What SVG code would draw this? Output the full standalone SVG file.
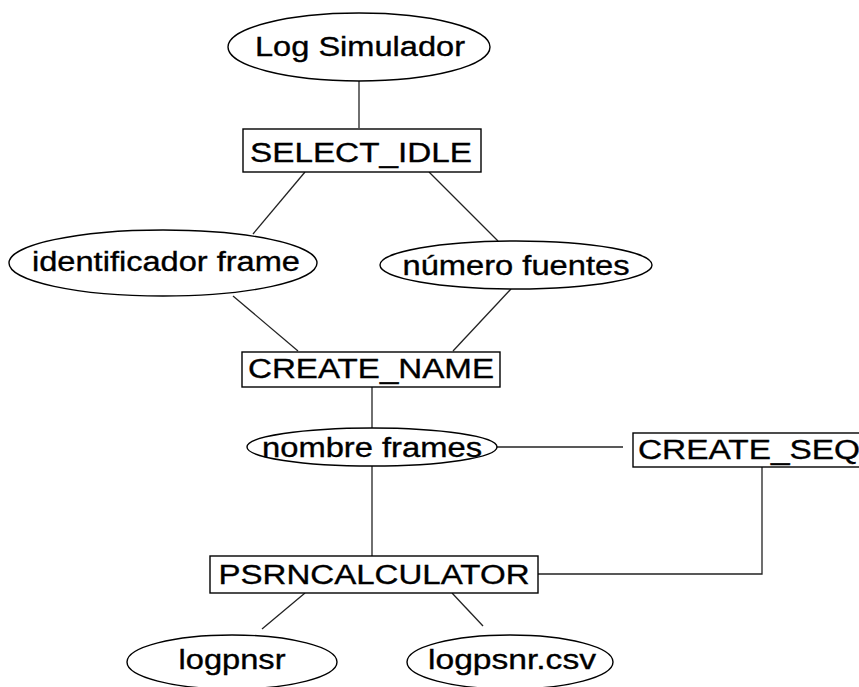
<svg xmlns="http://www.w3.org/2000/svg" width="859" height="687" viewBox="0 0 859 687">
<style>
.bg{fill:#fff}
.ell{fill:#fff;stroke:#000;stroke-width:1.4}
.box{fill:#fff;stroke:#000;stroke-width:1.4}
.edge{fill:none;stroke:#222;stroke-width:1.3}
.et,.bt{font-family:"Liberation Sans",Arial,sans-serif;font-size:27px;fill:#000;stroke:#000;stroke-width:0.35;text-anchor:middle}
</style>
<rect class="bg" x="0" y="0" width="859" height="687"/>
<g id="connectors">
<line class="edge" x1="359" y1="81" x2="359" y2="128"/>
<line class="edge" x1="305" y1="172" x2="253" y2="234"/>
<line class="edge" x1="429" y1="172" x2="498" y2="241"/>
<line class="edge" x1="233" y1="296" x2="298" y2="351"/>
<line class="edge" x1="511" y1="289" x2="453" y2="351"/>
<line class="edge" x1="372" y1="387" x2="372" y2="428"/>
<line class="edge" x1="497" y1="447" x2="623" y2="447"/>
<line class="edge" x1="372" y1="466" x2="372" y2="556"/>
<polyline class="edge" points="762,467 762,574 538,574"/>
<line class="edge" x1="305" y1="593" x2="262" y2="629"/>
<line class="edge" x1="452" y1="593" x2="483" y2="626"/>
</g>
<g id="log-simulador">
<ellipse class="ell" cx="359" cy="47" rx="131" ry="34"/>
<text class="et" x="360" y="56" textLength="210" lengthAdjust="spacingAndGlyphs">Log Simulador</text>
</g>
<g id="select-idle">
<rect class="box" x="243" y="129" width="238" height="43"/>
<text class="bt" x="361" y="162" textLength="222" lengthAdjust="spacingAndGlyphs">SELECT_IDLE</text>
</g>
<g id="identificador-frame">
<ellipse class="ell" cx="163" cy="263" rx="154" ry="33"/>
<text class="et" x="166" y="271" textLength="268" lengthAdjust="spacingAndGlyphs">identificador frame</text>
</g>
<g id="numero-fuentes">
<ellipse class="ell" cx="516" cy="265" rx="136" ry="24"/>
<text class="et" x="516" y="275" textLength="227" lengthAdjust="spacingAndGlyphs">número fuentes</text>
</g>
<g id="create-name">
<rect class="box" x="242" y="352" width="258" height="35"/>
<text class="bt" x="371" y="378" textLength="246" lengthAdjust="spacingAndGlyphs">CREATE_NAME</text>
</g>
<g id="nombre-frames">
<ellipse class="ell" cx="372" cy="447" rx="125" ry="19"/>
<text class="et" x="372" y="457" textLength="220" lengthAdjust="spacingAndGlyphs">nombre frames</text>
</g>
<g id="create-seq">
<rect class="box" x="633" y="433" width="240" height="34"/>
<text class="bt" x="638" y="459" textLength="222" lengthAdjust="spacingAndGlyphs" style="text-anchor:start">CREATE_SEQ</text>
</g>
<g id="psrncalculator">
<rect class="box" x="210" y="556" width="328" height="37"/>
<text class="bt" x="374" y="584" textLength="311" lengthAdjust="spacingAndGlyphs">PSRNCALCULATOR</text>
</g>
<g id="logpnsr">
<ellipse class="ell" cx="232" cy="662" rx="105" ry="27"/>
<text class="et" x="232" y="669" textLength="107" lengthAdjust="spacingAndGlyphs">logpnsr</text>
</g>
<g id="logpsnr-csv">
<ellipse class="ell" cx="510" cy="662" rx="103" ry="27"/>
<text class="et" x="512" y="669" textLength="168" lengthAdjust="spacingAndGlyphs">logpsnr.csv</text>
</g>
</svg>
